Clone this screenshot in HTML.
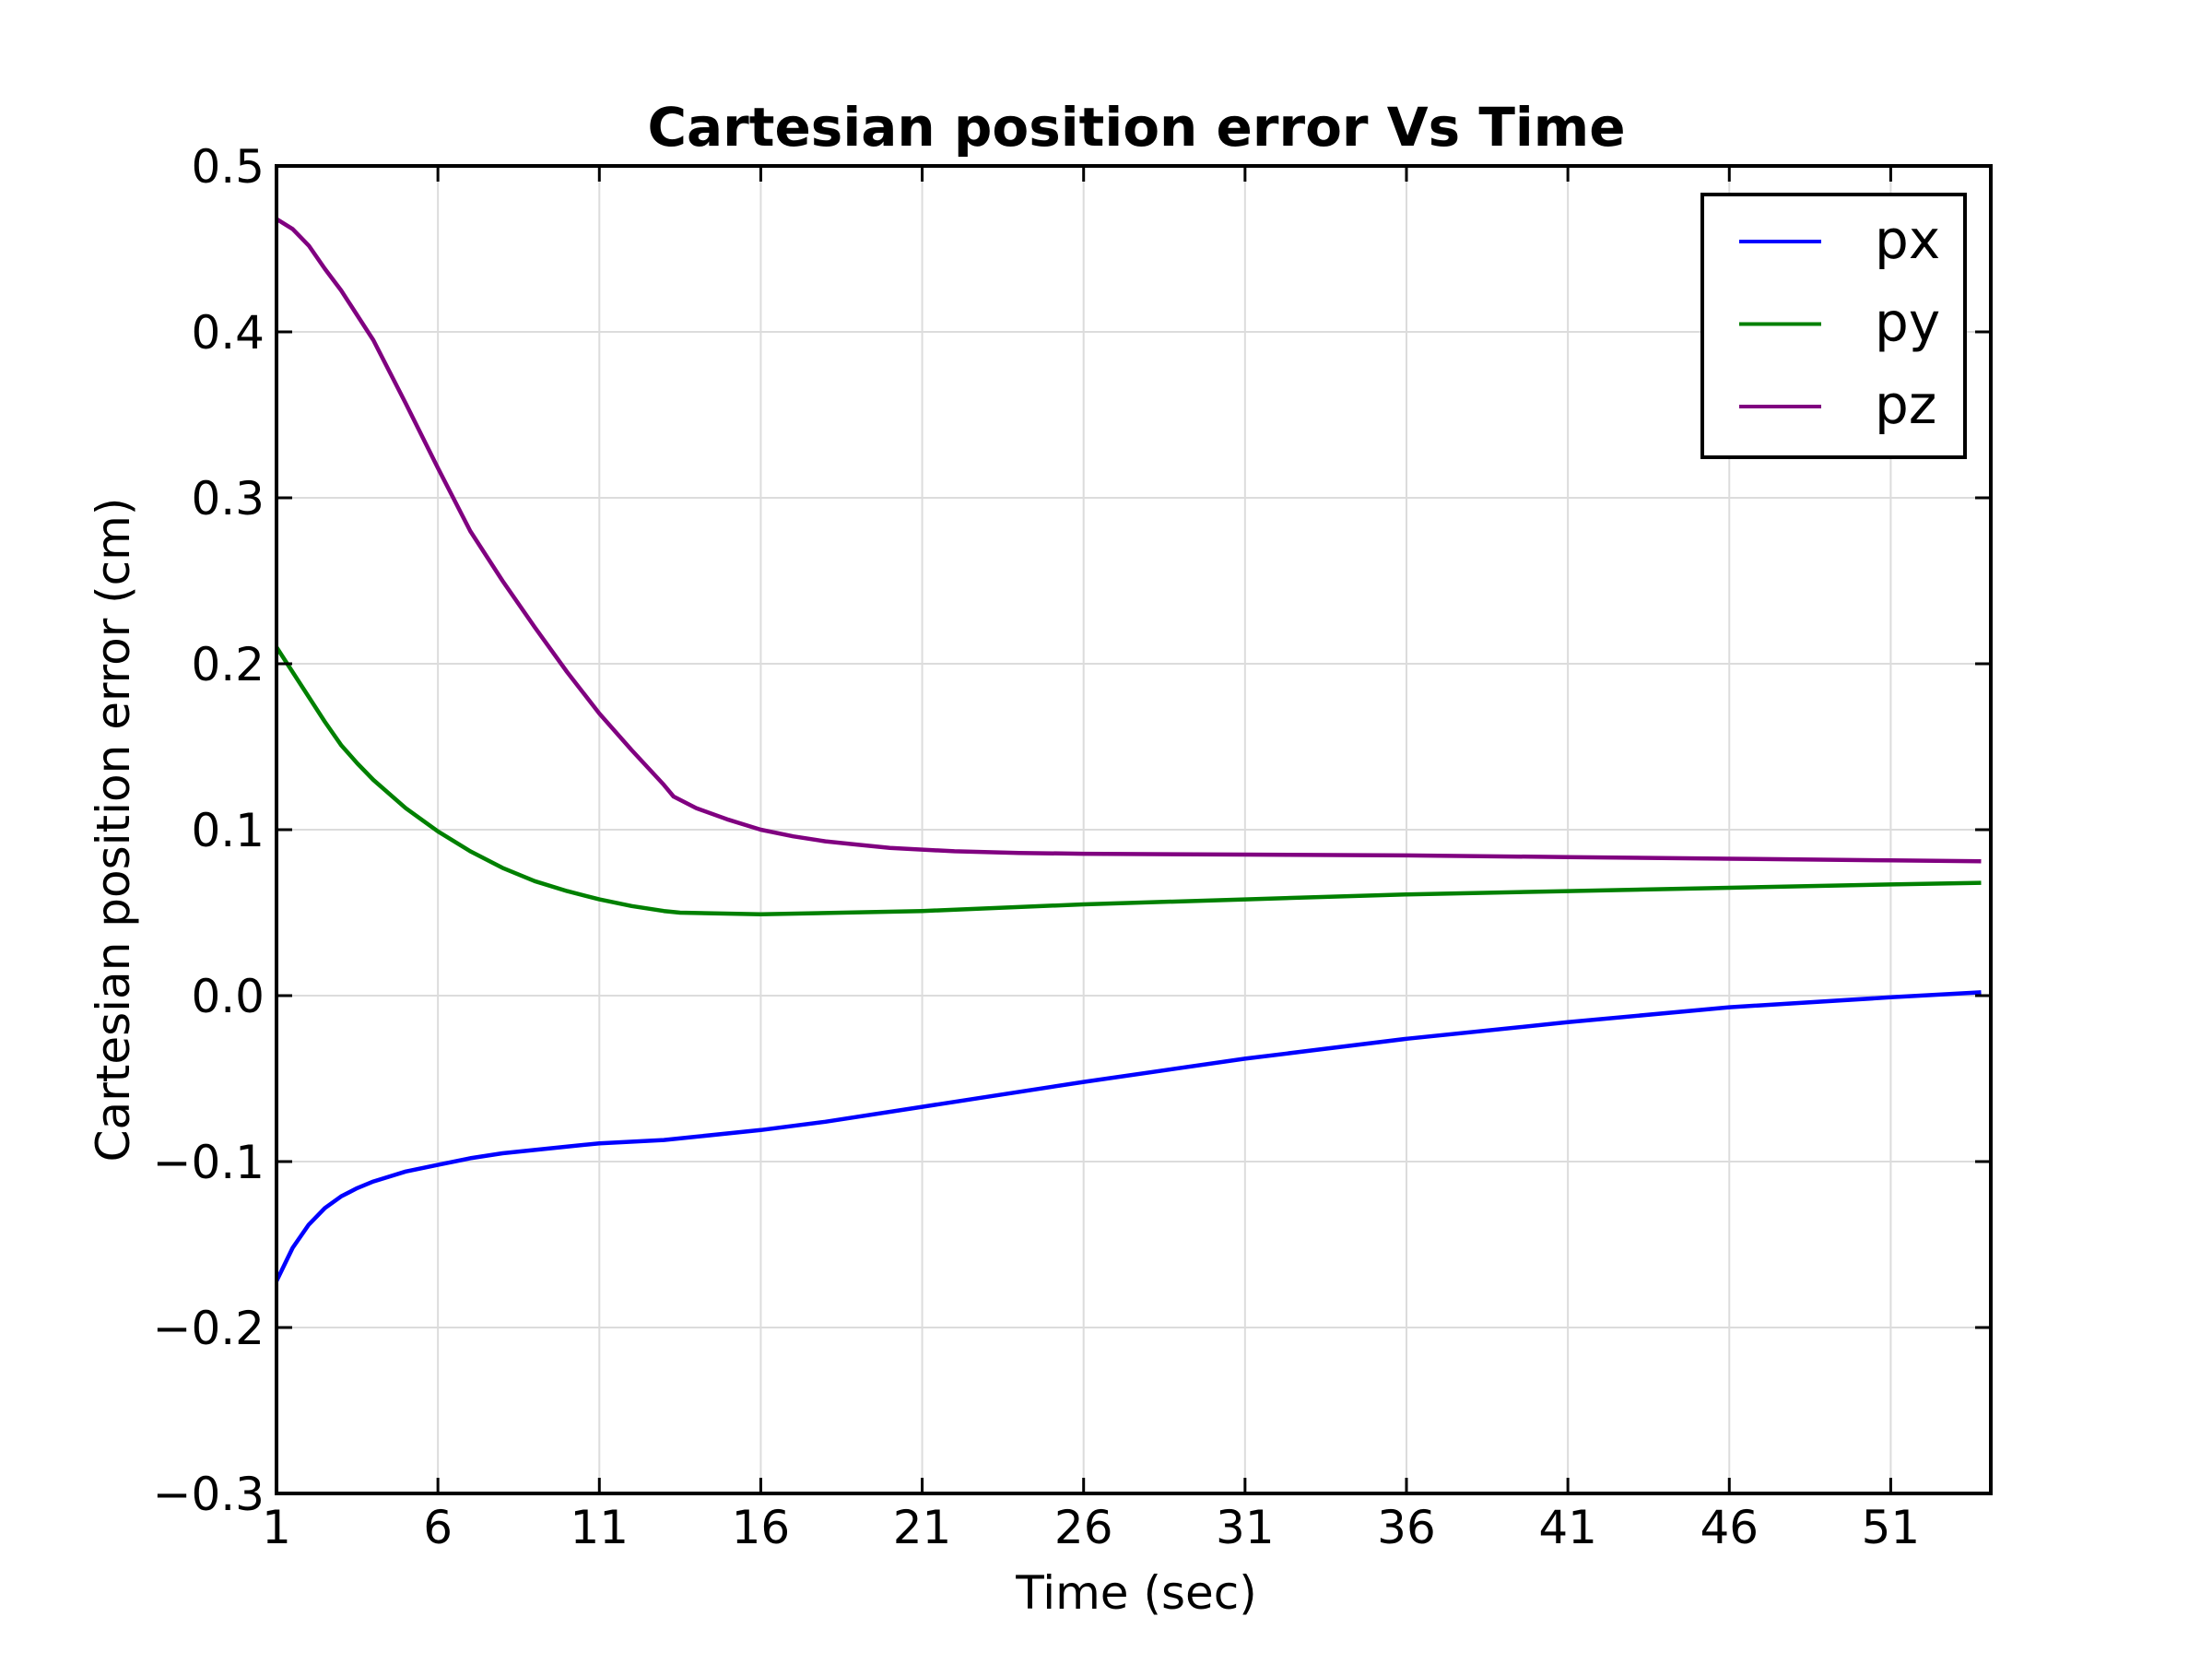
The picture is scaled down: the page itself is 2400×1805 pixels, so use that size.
<!DOCTYPE html>
<html><head><meta charset="utf-8"><style>
html,body{margin:0;padding:0;background:#fff;}
svg text{font-family:"DejaVu Sans","Liberation Sans",sans-serif;fill:#000;}
</style></head><body>
<svg id="chart" width="2400" height="1800" viewBox="0 0 2400 1800" xmlns="http://www.w3.org/2000/svg">
<rect width="2400" height="1800" fill="#fff"/>
<g id="grid"></g>
<g id="series"></g>
<g id="axes"></g>
<text x="1233" y="158" font-size="58" font-weight="bold" text-anchor="middle">Cartesian position error Vs Time</text>
<text x="1233" y="1745" font-size="50" text-anchor="middle">Time (sec)</text>
<text transform="translate(140,900) rotate(-90)" font-size="50" text-anchor="middle">Cartesian position error (cm)</text>
<g id="legend"></g>
</svg>
<script>
const xTicks = [1, 6, 11, 16, 21, 26, 31, 36, 41, 46, 51];
const yTicks = [-0.3, -0.2, -0.1, 0.0, 0.1, 0.2, 0.3, 0.4, 0.5];
const yTickLabels = ["\u22120.3", "\u22120.2", "\u22120.1", "0.0", "0.1", "0.2", "0.3", "0.4", "0.5"];
const seriesNames = ["px", "py", "pz"];
const seriesColors = ["#0000ff", "#008000", "#800080"];
const pxT = [1,1.5,2,2.5,3,3.5,4,5,6,7,8,9,10,11,13,14,16,18,21,26,31,36,41,46,51,53.8];
const pxV = [-0.172,-0.152,-0.138,-0.128,-0.121,-0.116,-0.112,-0.106,-0.102,-0.098,-0.095,-0.093,-0.091,-0.089,-0.087,-0.085,-0.081,-0.076,-0.067,-0.052,-0.038,-0.026,-0.016,-0.007,-0.001,0.002];
const pyT = [1,1.5,2,2.5,3,3.5,4,5,6,7,8,9,10,11,12,13,13.5,16,21,26,31,36,41,46,51,53.8];
const pyV = [0.21,0.195,0.18,0.165,0.151,0.14,0.13,0.113,0.099,0.087,0.077,0.069,0.063,0.058,0.054,0.051,0.05,0.049,0.051,0.055,0.058,0.061,0.063,0.065,0.067,0.068];
const pzT = [1,1.5,2,2.5,3,4,5,6,7,8,9,10,11,12,13,13.3,14,15,16,17,18,19,20,22,24,26,31,36,41,46,51,53.8];
const pzV = [0.468,0.462,0.452,0.438,0.425,0.395,0.357,0.318,0.28,0.25,0.222,0.195,0.17,0.148,0.127,0.12,0.113,0.106,0.1,0.096,0.093,0.091,0.089,0.087,0.086,0.0855,0.085,0.0845,0.0835,0.0825,0.0815,0.081];

const X0=300, X1=2160, Y0=180, Y1=1620;
const xMin=1, xMax=54.1, yMin=-0.3, yMax=0.5;
const xs = t => X0 + (t - xMin) / (xMax - xMin) * (X1 - X0);
const ys = v => Y1 - (v - yMin) / (yMax - yMin) * (Y1 - Y0);
const NS = "http://www.w3.org/2000/svg";
function mk(tag, attrs, parent){const e=document.createElementNS(NS,tag);for(const k in attrs)e.setAttribute(k,attrs[k]);parent.appendChild(e);return e;}
const grid=document.getElementById('grid'), axes=document.getElementById('axes'), series=document.getElementById('series'), legend=document.getElementById('legend');

xTicks.forEach(t=>{
  const x=xs(t);
  const g=mk('line',{x1:x,x2:x,y1:Y0,y2:Y1,stroke:'#dcdcdc','stroke-width':2},grid);
  
  
  [[Y1,Y1-17],[Y0,Y0+17]].forEach(p=>{
    const tk=mk('line',{x1:x,x2:x,y1:p[0],y2:p[1],stroke:'#000','stroke-width':3},axes);
    
    
  });
  const lb=mk('text',{x:x,y:1674,'font-size':50,'text-anchor':'middle'},axes);
  lb.textContent=t;
  
  
});
yTicks.forEach((v,i)=>{
  const y=ys(v);
  const g=mk('line',{x1:X0,x2:X1,y1:y,y2:y,stroke:'#dcdcdc','stroke-width':2},grid);
  
  
  [[X0,X0+17],[X1,X1-17]].forEach(p=>{
    const tk=mk('line',{x1:p[0],x2:p[1],y1:y,y2:y,stroke:'#000','stroke-width':3},axes);
    
    
  });
  const lb=mk('text',{x:287,y:y+18,'font-size':50,'text-anchor':'end'},axes);
  lb.textContent=yTickLabels[i];
  
  
});
const frame=mk('rect',{x:X0,y:Y0,width:X1-X0,height:Y1-Y0,fill:'none',stroke:'#000','stroke-width':4},axes);



const data=[[pxT,pxV],[pyT,pyV],[pzT,pzV]];
data.forEach((d,i)=>{
  const pts=d[0].map((t,j)=>xs(t).toFixed(1)+','+ys(d[1][j]).toFixed(1)).join(' ');
  const pl=mk('polyline',{points:pts,fill:'none',stroke:seriesColors[i],'stroke-width':4.5,'stroke-linejoin':'round'},series);
  
  
});

const lbox=mk('rect',{x:1847,y:211,width:285,height:285,fill:'#fff',stroke:'#000','stroke-width':4},legend);


seriesNames.forEach((n,i)=>{
  const y=262+i*89.5;
  const ln=mk('line',{x1:1887,x2:1976,y1:y,y2:y,stroke:seriesColors[i],'stroke-width':4},legend);
  
  
  const tx=mk('text',{x:2034,y:y+18,'font-size':58},legend);
  tx.textContent=n;
  
  
});
</script>
</body></html>
